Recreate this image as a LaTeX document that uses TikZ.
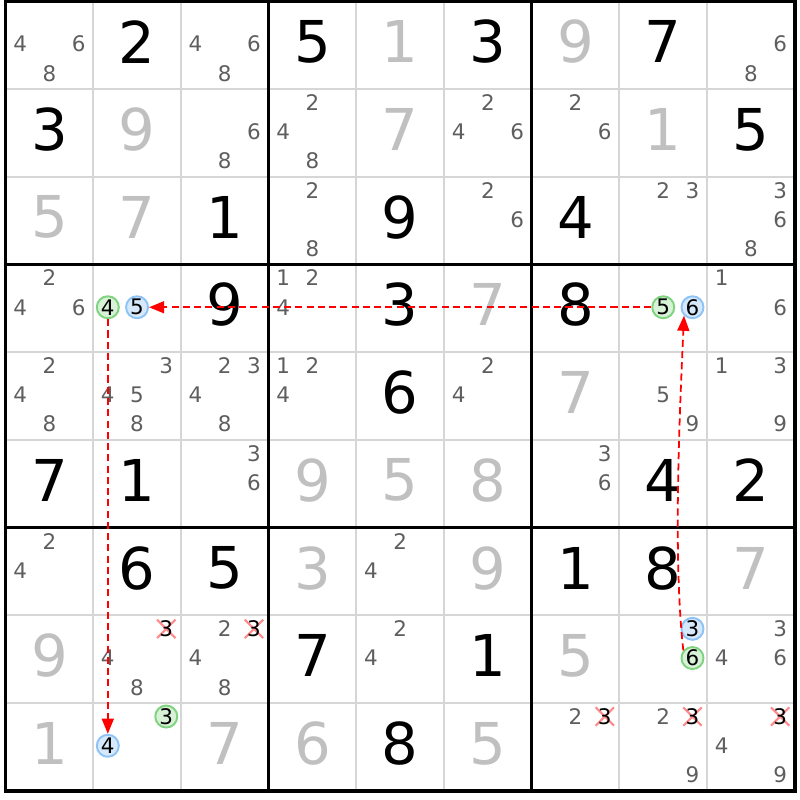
\documentclass[tikz,border=0pt]{standalone}
\usepackage{fontspec}
\setmainfont{DejaVu Sans}
\usepackage{xcolor}
\usetikzlibrary{backgrounds}
\usetikzlibrary{arrows.meta}
\definecolor{givengray}{HTML}{C0C0C0}
\definecolor{candgray}{HTML}{5E5E5E}
\definecolor{thingray}{HTML}{D6D6D6}
\definecolor{onfill}{HTML}{D7F2D7}
\definecolor{ondraw}{HTML}{7FD37F}
\definecolor{offfill}{HTML}{D6E8FB}
\definecolor{offdraw}{HTML}{8EC3F5}
\definecolor{crossred}{HTML}{FF8A8A}
\newcommand{\cellsz}{87.7}
\newcommand{\gridx}{5.5}
\newcommand{\gridy}{1.5}
\newcommand{\liftbig}{3.5}
\newcommand{\liftsmall}{1.2}
\newcommand{\bigdigit}{\fontsize{16.4pt}{16.4pt}\selectfont}
\newcommand{\smalldigit}{\fontsize{6.1pt}{6.1pt}\selectfont}
\newcommand{\setcell}[2]{%
  \pgfmathsetmacro{\px}{\gridx + (#2 - 0.5)*\cellsz}%
  \pgfmathsetmacro{\py}{\gridy + (#1 - 0.5)*\cellsz - \liftbig}%
}
\newcommand{\setcand}[3]{%
  \pgfmathsetmacro{\px}{\gridx + (#2 - 1)*\cellsz + (2*mod(#3 - 1, 3) + 1)*\cellsz/6}%
  \pgfmathsetmacro{\py}{\gridy + (#1 - 1)*\cellsz + (2*int((#3 - 1)/3) + 1)*\cellsz/6 - \liftsmall}%
}

\begin{document}
\begin{tikzpicture}[x=0.01cm,y=-0.01cm,
    every node/.style={inner sep=0pt},
    placed/.style={font=\bigdigit},
    given/.style={font=\bigdigit,text=givengray},
    cand/.style={font=\smalldigit,text=candgray},
    oncand/.style={cand,text=black,circle,minimum size=0.22cm,
      draw=ondraw,fill=onfill,line width=0.55pt},
    offcand/.style={cand,text=black,circle,minimum size=0.22cm,
      draw=offdraw,fill=offfill,line width=0.55pt},
    struck/.style={cand,text=black,minimum size=0.17cm},
    strike/.style={crossred,line width=0.6pt},
    link/.style={red,line width=0.5pt,dash pattern=on 2pt off 1.2pt,
      -{Triangle[length=4.3pt,width=3.4pt]}},
    thinline/.style={thingray,line width=0.55pt},
    boxline/.style={black,line width=1pt}]
    \useasboundingbox (0,0) rectangle (800,800);

    \begin{scope}[on background layer]
      % cell lines
      \foreach \i in {1,2,4,5,7,8} {
        \draw[thinline] ({\gridx + \i*\cellsz}, \gridy) -- ++(0, {9*\cellsz});
        \draw[thinline] (\gridx, {\gridy + \i*\cellsz}) -- ++({9*\cellsz}, 0);
      }
      % box lines
      \foreach \i in {3,6} {
        \draw[boxline] ({\gridx + \i*\cellsz}, \gridy) -- ++(0, {9*\cellsz});
        \draw[boxline] (\gridx, {\gridy + \i*\cellsz}) -- ++({9*\cellsz}, 0);
      }
      \draw[boxline] (\gridx, \gridy) rectangle ++({9*\cellsz}, {9*\cellsz});
    \end{scope}

    % givens
    \foreach \r/\c/\d in {1/5/1, 1/7/9, 2/2/9, 2/5/7, 2/8/1, 3/1/5, 3/2/7,
        4/6/7, 5/7/7, 6/4/9, 6/5/5, 6/6/8, 7/4/3, 7/6/9, 7/9/7, 8/1/9,
        8/7/5, 9/1/1, 9/3/7, 9/4/6, 9/6/5} {
      \setcell{\r}{\c}
      \node[given] (v\r\c) at (\px,\py) {\d};
    }
    % solved cells
    \foreach \r/\c/\d in {1/2/2, 1/4/5, 1/6/3, 1/8/7, 2/1/3, 2/9/5, 3/3/1,
        3/5/9, 3/7/4, 4/3/9, 4/5/3, 4/7/8, 5/5/6, 6/1/7, 6/2/1, 6/8/4,
        6/9/2, 7/2/6, 7/3/5, 7/7/1, 7/8/8, 8/4/7, 8/6/1, 9/5/8} {
      \setcell{\r}{\c}
      \node[placed] (v\r\c) at (\px,\py) {\d};
    }

    % pencil marks
    \foreach \r/\c/\ds in {1/1/{4,6,8}, 1/3/{4,6,8}, 1/9/{6,8}, 2/3/{6,8},
        2/4/{2,4,8}, 2/6/{2,4,6}, 2/7/{2,6}, 3/4/{2,8}, 3/6/{2,6},
        3/8/{2,3}, 3/9/{3,6,8}, 4/1/{2,4,6}, 4/4/{1,2,4}, 4/9/{1,6},
        5/1/{2,4,8}, 5/2/{3,4,5,8}, 5/3/{2,3,4,8}, 5/4/{1,2,4}, 5/6/{2,4},
        5/8/{5,9}, 5/9/{1,3,9}, 6/3/{3,6}, 6/7/{3,6}, 7/1/{2,4}, 7/5/{2,4},
        8/2/{4,8}, 8/3/{2,4,8}, 8/5/{2,4}, 8/9/{3,4,6}, 9/7/{2},
        9/8/{2,9}, 9/9/{4,9}} {
      \foreach \d in \ds {
        \setcand{\r}{\c}{\d}
        \node[cand] (k\r\c\d) at (\px,\py) {\d};
      }
    }
    \foreach \r/\c/\d in {4/2/4, 4/8/5, 8/8/6, 9/2/3} {
      \setcand{\r}{\c}{\d}
      \node[oncand] (k\r\c\d) at (\px,\py) {\d};
    }
    \foreach \r/\c/\d in {4/2/5, 4/8/6, 8/8/3, 9/2/4} {
      \setcand{\r}{\c}{\d}
      \node[offcand] (k\r\c\d) at (\px,\py) {\d};
    }
    % eliminated threes
    \foreach \r/\c in {8/2, 8/3, 9/7, 9/8, 9/9} {
      \setcand{\r}{\c}{3}
      \node[struck] (k\r\c3) at (\px,\py) {3};
      \begin{scope}[on background layer]
        \draw[strike] (k\r\c3.north west) -- (k\r\c3.south east)
          (k\r\c3.north east) -- (k\r\c3.south west);
      \end{scope}
    }

    % chain
    \draw[link] (k485) -- (k425);
    \draw[link] (k424) -- (k924);
    \draw[link] (k886.140) .. controls +(-10,-90) and +(-5,110) .. (k486.225);
  \end{tikzpicture}
\end{document}
